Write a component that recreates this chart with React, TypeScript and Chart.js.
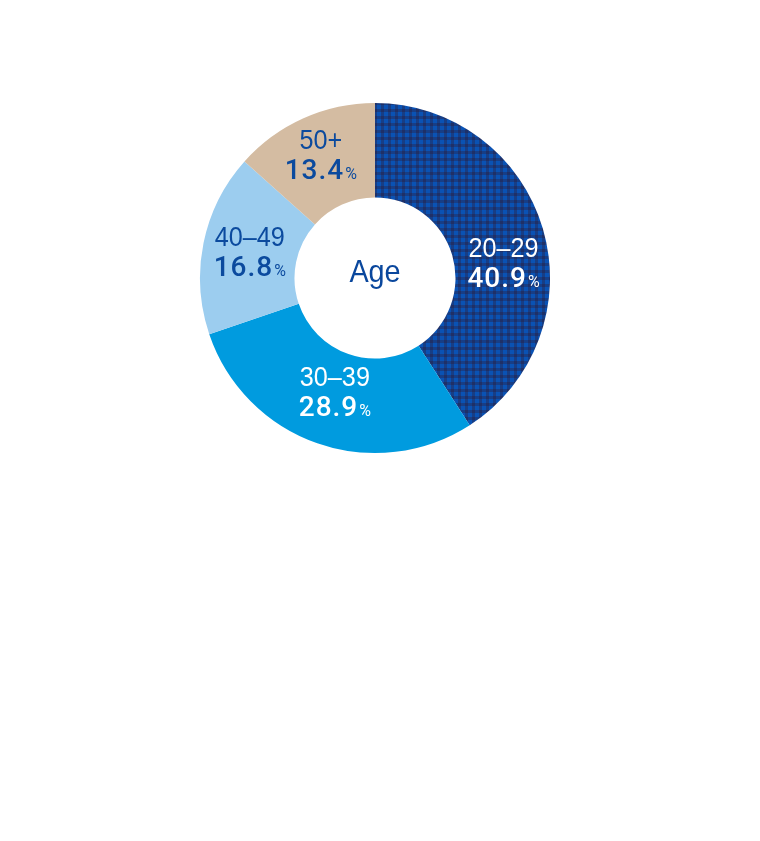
import React, { useEffect, useRef } from "react";
import { Chart, registerables } from "chart.js";

Chart.register(...registerables);

const categories = ["20–29", "30–39", "40–49", "50+"];
const shares = [40.9, 28.9, 16.8, 13.4];
const centerTitle = "Age";

const sliceColors = ["pattern", "#009BDF", "#9CCDEF", "#D4BCA2"];
const labelColors = ["#FFFFFF", "#FFFFFF", "#0B4A9E", "#0B4A9E"];
const labelNudges = [
  [6, 20],
  [2, -8],
  [0, -1],
  [-2, -7],
];

const CAT_FONT = "'Liberation Sans', Arial, sans-serif";
const NUM_FONT = "Roboto, 'Liberation Sans', sans-serif";

function makeChecker(): CanvasPattern | string {
  const c = document.createElement("canvas");
  c.width = 7;
  c.height = 7;
  const g = c.getContext("2d");
  if (!g) return "#163F88";
  g.fillStyle = "#173E86";
  g.fillRect(0, 0, 7, 7);
  g.fillStyle = "#0A52B4";
  g.fillRect(0, 0, 4, 4);
  g.fillStyle = "#1F3067";
  g.fillRect(4, 4, 3, 3);
  const p = g.createPattern(c, "repeat");
  return p || "#163F88";
}

function condensedText(ctx: any, text: string, x: number, y: number, font: string, sx: number) {
  ctx.save();
  ctx.font = font;
  ctx.textAlign = "center";
  ctx.translate(x, y);
  ctx.scale(sx, 1);
  ctx.fillText(text, 0, 0);
  ctx.restore();
}

const labelPlugin = {
  id: "sliceLabels",
  afterDatasetsDraw(chart: any) {
    const ctx = chart.ctx;
    const meta = chart.getDatasetMeta(0);
    ctx.save();
    ctx.textBaseline = "alphabetic";
    meta.data.forEach((arc: any, i: number) => {
      const p = arc.getProps(["x", "y", "startAngle", "endAngle", "innerRadius", "outerRadius"], true);
      const mid = (p.startAngle + p.endAngle) / 2;
      const r = (p.innerRadius + p.outerRadius) / 2;
      const cx = p.x + Math.cos(mid) * r + labelNudges[i][0];
      const cy = p.y + Math.sin(mid) * r + labelNudges[i][1];
      ctx.fillStyle = labelColors[i];
      condensedText(ctx, categories[i], cx, cy - 5, `400 28px ${CAT_FONT}`, 0.9);
      const num = shares[i].toFixed(1);
      ctx.font = `500 28px ${NUM_FONT}`;
      (ctx as any).letterSpacing = "1px";
      const wNum = ctx.measureText(num).width;
      ctx.font = `400 16px ${NUM_FONT}`;
      (ctx as any).letterSpacing = "0px";
      const wPct = ctx.measureText("%").width;
      const gap = 1;
      const left = cx - (wNum + gap + wPct) / 2;
      ctx.textAlign = "left";
      ctx.font = `500 28px ${NUM_FONT}`;
      (ctx as any).letterSpacing = "1px";
      ctx.fillText(num, left, cy + 25);
      (ctx as any).letterSpacing = "0px";
      ctx.font = `400 16px ${NUM_FONT}`;
      ctx.fillText("%", left + wNum + gap, cy + 25);
    });
    const a0 = meta.data[0];
    ctx.fillStyle = "#0A479D";
    condensedText(ctx, centerTitle, a0.x, a0.y + 4, `400 32px ${CAT_FONT}`, 0.9);
    ctx.restore();
  },
};

export default function App() {
  const ref = useRef<HTMLCanvasElement>(null);
  useEffect(() => {
    if (!ref.current) return;
    const checker = makeChecker();
    const bg = sliceColors.map((c) => (c === "pattern" ? checker : c));
    const chart = new Chart(ref.current, {
      type: "doughnut",
      data: {
        labels: categories,
        datasets: [
          {
            data: shares,
            backgroundColor: bg as any,
            borderWidth: 0,
            hoverOffset: 0,
          },
        ],
      },
      options: {
        animation: false,
        responsive: false,
        cutout: "46%",
        rotation: 0,
        layout: { padding: 5 },
        plugins: {
          legend: { display: false },
          tooltip: { enabled: false },
        },
        events: [],
      },
      plugins: [labelPlugin],
    });
    return () => chart.destroy();
  }, []);
  return (
    <div style={{ position: "relative", width: 744, height: 825 }}>
      <canvas
        ref={ref}
        width={360}
        height={360}
        style={{ position: "absolute", left: 187, top: 90, width: 360, height: 360 }}
      />
    </div>
  );
}
